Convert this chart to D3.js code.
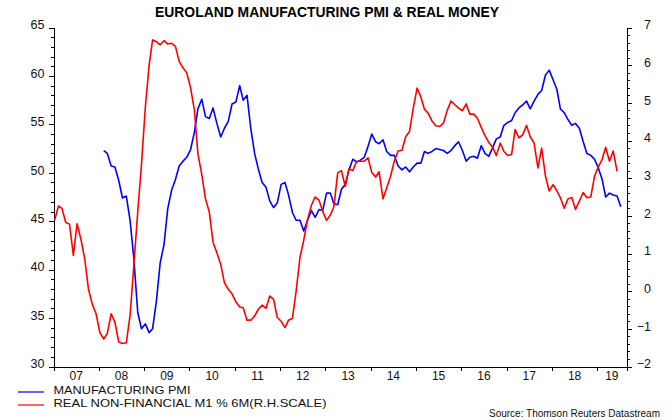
<!DOCTYPE html>
<html lang="en">
<head>
  <meta charset="UTF-8">
  <title>Euroland Manufacturing PMI & Real Money</title>
  <script src="https://cdn.jsdelivr.net/npm/d3@7"></script>
  <style>
    body { margin: 0; background: #fff; }
    svg { display: block; font-family: Arial, 'Liberation Sans', sans-serif; }
    .axis path, .axis line { stroke: #000; shape-rendering: crispEdges; }
    .axis text { font-size: 12.5px; fill: #111; font-family: Arial, 'Liberation Sans', sans-serif; }
    .series { fill: none; stroke-width: 1.6px; stroke-linejoin: round; }
  </style>
</head>
<body>
  <svg id="chart" width="672" height="420"></svg>
  <script>
    // Werte (monatlich)
    const yearLabels = ['07','08','09','10','11','12','13','14','15','16','17','18','19'];

    // Manufacturing PMI, Feb 2008 - Jul 2019 (linke Skala)
    const pmiStart = [2008, 1];
    const pmi = [
      52.3, 52.0, 50.7, 50.6, 49.2, 47.4, 47.6, 45.0, 41.1, 35.6, 33.9,
      34.4, 33.5, 33.9, 36.8, 40.7, 42.6, 46.3, 48.2, 49.3, 50.7, 51.2, 51.6,
      52.4, 54.2, 56.6, 57.6, 55.8, 55.6, 56.7, 55.1, 53.7, 54.6, 55.3, 57.1,
      57.3, 59.0, 57.5, 58.0, 54.6, 52.0, 50.4, 49.0, 48.5, 47.1, 46.4, 46.9,
      48.8, 49.0, 47.7, 45.9, 45.1, 45.1, 44.0, 45.1, 46.1, 45.4, 46.2, 46.1,
      47.9, 47.9, 46.8, 46.7, 48.3, 48.8, 50.3, 51.4, 51.1, 51.3, 51.6, 52.7,
      54.0, 53.2, 53.0, 53.4, 52.2, 51.8, 51.8, 50.7, 50.3, 50.6, 50.1, 50.6,
      51.0, 51.0, 52.2, 52.0, 52.2, 52.5, 52.4, 52.3, 52.0, 52.3, 52.8, 53.2,
      52.3, 51.2, 51.6, 51.7, 51.5, 52.8, 52.0, 51.7, 52.6, 53.5, 53.7, 54.9,
      55.2, 55.4, 56.2, 56.7, 57.0, 57.4, 56.6, 57.4, 58.1, 58.5, 60.1, 60.6,
      59.6, 58.6, 56.6, 56.2, 55.5, 54.9, 55.1, 54.6, 53.2, 52.0, 51.8, 51.4,
      50.5, 49.3, 47.5, 47.9, 47.7, 47.6, 46.5
    ];

    // Real non-financial M1 % 6m, Jan 2007 - Jun 2019 (rechte Skala)
    const moneyStart = [2007, 0];
    const money = [
      1.88, 2.26, 2.20, 1.82, 1.78, 0.95, 1.79, 1.38, 0.85, 0.05, -0.35, -0.60,
      -1.10, -1.27, -1.12, -0.60, -0.82, -1.35, -1.39, -1.37, -0.62, 0.70, 2.10, 3.35,
      4.87, 6.00, 6.67, 6.62, 6.54, 6.65, 6.56, 6.58, 6.50, 6.10, 5.93, 5.80,
      5.40, 4.80, 3.65, 3.10, 2.45, 2.10, 1.30, 1.02, 0.71, 0.22, 0.05, -0.07,
      -0.28, -0.42, -0.44, -0.77, -0.77, -0.66, -0.48, -0.37, -0.46, -0.13, -0.22, -0.70,
      -0.80, -0.97, -0.77, -0.72, 0.00, 0.90, 1.35, 1.90, 2.28, 2.50, 2.42, 2.12,
      1.88, 2.02, 2.24, 3.14, 3.20, 2.78, 3.25, 3.20, 3.45, 3.45, 3.45, 3.54,
      3.15, 3.03, 3.17, 2.45, 2.74, 3.05, 3.45, 3.72, 3.74, 4.10, 4.24, 4.86,
      5.39, 5.15, 4.83, 4.72, 4.52, 4.39, 4.37, 4.46, 4.80, 5.05, 4.95, 4.86,
      4.79, 4.97, 4.70, 4.70, 4.59, 4.35, 4.13, 3.95, 3.82, 3.60, 3.93, 3.71,
      3.60, 3.63, 4.29, 4.07, 4.15, 4.40, 4.10, 3.93, 3.27, 3.80, 3.05, 2.66,
      2.83, 2.66, 2.48, 2.20, 2.45, 2.49, 2.17, 2.39, 2.62, 2.48, 2.50, 3.05,
      3.30, 3.50, 3.82, 3.45, 3.72, 3.18
    ];

    const pmiTicks = [30, 35, 40, 45, 50, 55, 60, 65];
    const moneyTicks = [-2, -1, 0, 1, 2, 3, 4, 5, 6, 7];
    const legendLabels = ['MANUFACTURING PMI', 'REAL NON-FINANCIAL M1 % 6M(R.H.SCALE)'];
    const colors = ['#0000ff', '#ff0000'];

    const plot = { left: 53.5, right: 626.5, top: 27.5, bottom: 366.5 };

    // Monatsreihe -> Punkte
    function toSeries(start, values) {
      return values.map((v, i) => ({ date: new Date(start[0], start[1] + i, 10), value: v }));
    }
    const pmiData = toSeries(pmiStart, pmi);
    const moneyData = toSeries(moneyStart, money);

    const svg = d3.select('#chart');

    const x = d3.scaleTime()
      .domain([new Date(2007, 0, 1), new Date(2019, 7, 25)])
      .range([plot.left, plot.right]);
    const yL = d3.scaleLinear().domain([30, 65]).range([plot.bottom, plot.top]);
    const yR = d3.scaleLinear().domain([-2, 7]).range([plot.bottom, plot.top]);

    // Titel
    svg.append('text')
      .attr('x', 327).attr('y', 16.5)
      .attr('text-anchor', 'middle')
      .attr('textLength', 344).attr('lengthAdjust', 'spacingAndGlyphs')
      .style('font-size', '15.5px').style('font-weight', 'bold').style('fill', '#000')
      .text('EUROLAND MANUFACTURING PMI & REAL MONEY');

    // linke Achse: kleine Striche + Hauptstriche
    svg.append('g').attr('class', 'axis')
      .attr('transform', `translate(${plot.left},0)`)
      .call(d3.axisLeft(yL).tickValues(d3.range(30, 66, 1)).tickSize(3).tickSizeOuter(0).tickFormat(''));
    const gL = svg.append('g').attr('class', 'axis')
      .attr('transform', `translate(${plot.left},0)`)
      .call(d3.axisLeft(yL).tickValues(pmiTicks).tickSize(5).tickSizeOuter(0).tickPadding(4));
    gL.select('.domain').remove();
    gL.selectAll('text').attr('dy', '0.1em');

    // rechte Achse
    svg.append('g').attr('class', 'axis')
      .attr('transform', `translate(${plot.right},0)`)
      .call(d3.axisRight(yR).tickValues(d3.range(-2, 7.001, 0.2)).tickSize(3).tickSizeOuter(0).tickFormat(''));
    const gR = svg.append('g').attr('class', 'axis')
      .attr('transform', `translate(${plot.right},0)`)
      .call(d3.axisRight(yR).tickValues(moneyTicks).tickSize(5).tickSizeOuter(0));
    gR.select('.domain').remove();
    gR.selectAll('text').attr('text-anchor', 'end').attr('x', 24.5).attr('dy', '0.1em');

    // x-Achse: Striche an den Jahresgrenzen, Jahreszahlen dazwischen
    const [d0, d1] = x.domain();
    const yearStarts = yearLabels.map((_, i) => new Date(2007 + i, 0, 1)).concat([d1]);
    svg.append('g').attr('class', 'axis')
      .attr('transform', `translate(0,${plot.bottom})`)
      .call(d3.axisBottom(x).tickValues(yearStarts).tickSize(4).tickSizeOuter(0).tickFormat(''));

    svg.append('g').selectAll('text')
      .data(yearLabels)
      .join('text')
      .attr('x', (d, i) => {
        const a = Math.max(+new Date(2007 + i, 0, 1), +d0);
        const b = Math.min(+new Date(2008 + i, 0, 1), +d1);
        return (x(a) + x(b)) / 2;
      })
      .attr('y', 379.5)
      .attr('text-anchor', 'middle')
      .style('font-size', '12px').style('fill', '#111')
      .text(d => d);

    // Linien
    const linePmi = d3.line().x(d => x(d.date)).y(d => yL(d.value));
    const lineMoney = d3.line().x(d => x(d.date)).y(d => yR(d.value));

    svg.append('path').datum(pmiData)
      .attr('class', 'series').attr('stroke', colors[0]).attr('d', linePmi);
    svg.append('path').datum(moneyData)
      .attr('class', 'series').attr('stroke', colors[1]).attr('d', lineMoney);

    // Legende
    const legendY = [393.5, 406.5];
    const legendWidth = [137, 273];
    const lg = svg.append('g').selectAll('g')
      .data(legendLabels)
      .join('g')
      .attr('transform', (d, i) => `translate(0,${legendY[i]})`);
    lg.append('line')
      .attr('x1', 18).attr('x2', 44).attr('y1', -1.5).attr('y2', -1.5)
      .attr('stroke', (d, i) => colors[i]).attr('stroke-width', 1.2);
    lg.append('text')
      .attr('x', 53.5).attr('y', 0)
      .attr('textLength', (d, i) => legendWidth[i]).attr('lengthAdjust', 'spacingAndGlyphs')
      .style('font-size', '11.5px').style('fill', '#111')
      .text(d => d);

    // Quelle
    svg.append('text')
      .attr('x', 660).attr('y', 417)
      .attr('text-anchor', 'end')
      .style('font-size', '10px').style('fill', '#111')
      .text('Source: Thomson Reuters Datastream');
  </script>
</body>
</html>
